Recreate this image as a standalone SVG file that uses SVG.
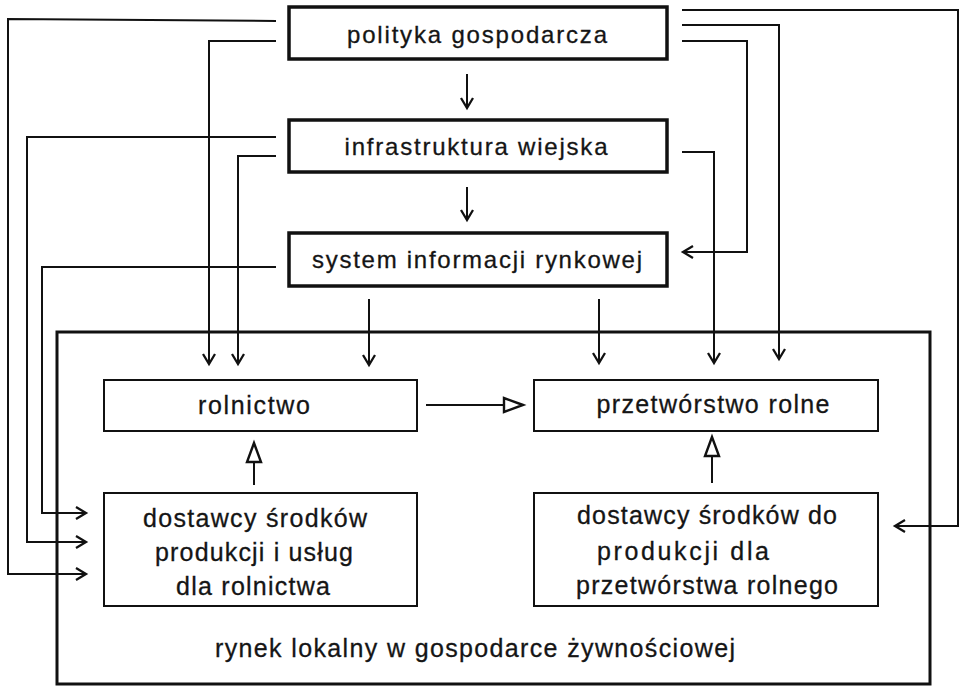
<svg xmlns="http://www.w3.org/2000/svg" width="961" height="691" viewBox="0 0 961 691">
<style>
.bg{fill:#fff}
.top{fill:#fff;stroke:#111;stroke-width:3.5}
.outer{fill:none;stroke:#111;stroke-width:3}
.inner{fill:#fff;stroke:#111;stroke-width:2}
.c{fill:none;stroke:#111;stroke-width:2}
text{font-family:"Liberation Sans",Arial,sans-serif;fill:#151515;stroke:#151515;stroke-width:0.3;text-anchor:middle}
.t1{font-size:24px}
.t2{font-size:25px}
</style>
<defs>
<marker id="v" markerUnits="userSpaceOnUse" viewBox="-12 -8 14 16" refX="0" refY="0" markerWidth="14" markerHeight="16" orient="auto" overflow="visible">
<path d="M-10,-6 L0,0 L-10,6" fill="none" stroke="#111" stroke-width="2.3"/>
</marker>
<marker id="tri" markerUnits="userSpaceOnUse" viewBox="-22 -10 24 20" refX="0" refY="0" markerWidth="24" markerHeight="20" orient="auto" overflow="visible">
<path d="M0,0 L-19,-7 L-19,7 Z" fill="#fff" stroke="#111" stroke-width="2.4" stroke-linejoin="miter"/>
</marker>
</defs>
<rect class="bg" x="0" y="0" width="961" height="691"/>

<g id="rynek-lokalny">
<rect class="outer" x="57" y="332" width="873" height="352"/>
<text class="t2" x="475" y="657" textLength="520" lengthAdjust="spacing">rynek lokalny w gospodarce żywnościowej</text>
</g>

<g id="polityka">
<rect class="top" x="289" y="7" width="378" height="52"/>
<text class="t1" x="477" y="43" textLength="260" lengthAdjust="spacing">polityka gospodarcza</text>
</g>
<g id="infrastruktura">
<rect class="top" x="289" y="120" width="378" height="52"/>
<text class="t1" x="476" y="155" textLength="263" lengthAdjust="spacing">infrastruktura wiejska</text>
</g>
<g id="system">
<rect class="top" x="289" y="233" width="378" height="53"/>
<text class="t1" x="477" y="268" textLength="330" lengthAdjust="spacing">system informacji rynkowej</text>
</g>

<g id="rolnictwo">
<rect class="inner" x="104" y="380" width="313" height="51"/>
<text class="t2" x="254" y="414" textLength="112" lengthAdjust="spacing">rolnictwo</text>
</g>
<g id="przetworstwo">
<rect class="inner" x="534" y="380" width="344" height="51"/>
<text class="t2" x="713" y="413" textLength="233" lengthAdjust="spacing">przetwórstwo rolne</text>
</g>
<g id="dostawcy-rolnictwo">
<rect class="inner" x="104" y="493" width="313" height="113"/>
<text class="t2" x="255" y="527" textLength="224" lengthAdjust="spacing">dostawcy środków</text>
<text class="t2" x="254" y="561" textLength="198" lengthAdjust="spacing">produkcji i usług</text>
<text class="t2" x="253" y="595" textLength="154" lengthAdjust="spacing">dla rolnictwa</text>
</g>
<g id="dostawcy-przetworstwo">
<rect class="inner" x="534" y="493" width="344" height="113"/>
<text class="t2" x="707" y="524" textLength="260" lengthAdjust="spacing">dostawcy środków do</text>
<text class="t2" x="683" y="560" textLength="172" lengthAdjust="spacing">produkcji dla</text>
<text class="t2" x="707" y="594" textLength="262" lengthAdjust="spacing">przetwórstwa rolnego</text>
</g>

<g id="connectors">
<path class="c" d="M467,74 L467,108" marker-end="url(#v)"/>
<path class="c" d="M467,187 L467,220" marker-end="url(#v)"/>
<path class="c" d="M276,21 L8,19 L8,574 L86,574" marker-end="url(#v)"/>
<path class="c" d="M276,41 L209,41 L209,364" marker-end="url(#v)"/>
<path class="c" d="M276,137 L27,137 L27,542 L86,542" marker-end="url(#v)"/>
<path class="c" d="M276,156 L238,156 L238,364" marker-end="url(#v)"/>
<path class="c" d="M276,267 L42,267 L42,513 L86,513" marker-end="url(#v)"/>
<path class="c" d="M369,299 L369,365" marker-end="url(#v)"/>
<path class="c" d="M599,299 L599,363" marker-end="url(#v)"/>
<path class="c" d="M682,10 L958,10 L958,526 L895,526" marker-end="url(#v)"/>
<path class="c" d="M682,25 L779,25 L779,359" marker-end="url(#v)"/>
<path class="c" d="M682,41 L747,41 L747,252 L683,252" marker-end="url(#v)"/>
<path class="c" d="M682,152 L714,152 L714,363" marker-end="url(#v)"/>
<path class="c" d="M254,485 L254,443" marker-end="url(#tri)"/>
<path class="c" d="M712,483 L712,437" marker-end="url(#tri)"/>
<path class="c" d="M426,405 L523,405" marker-end="url(#tri)"/>
</g>
</svg>
